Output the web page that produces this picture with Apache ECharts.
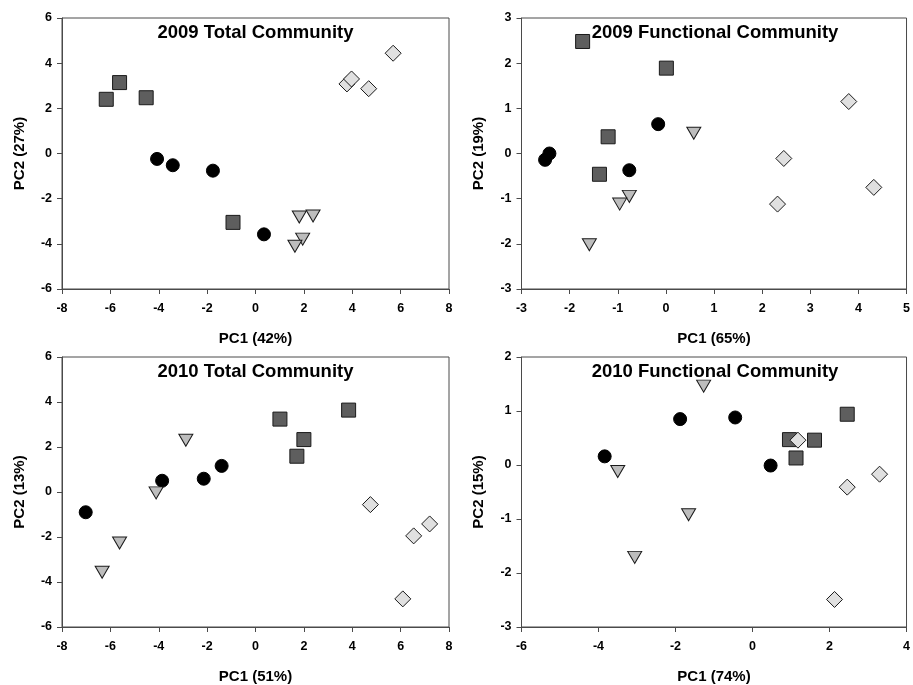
<!DOCTYPE html>
<html><head><meta charset="utf-8">
<script src="https://cdn.jsdelivr.net/npm/echarts@6/dist/echarts.min.js"></script>
<style>html,body{margin:0;padding:0;background:#fff}#c{width:913px;height:685px}</style>
</head><body><div id="c"></div>
<script>
// ---- data ----
const panelTitles = ['2009 Total Community', '2009 Functional Community', '2010 Total Community', '2010 Functional Community'];
const xNames = ['PC1 (42%)', 'PC1 (65%)', 'PC1 (51%)', 'PC1 (74%)'];
const yNames = ['PC2 (27%)', 'PC2 (19%)', 'PC2 (13%)', 'PC2 (15%)'];
const xMin = [-8, -3, -8, -6];
const xMax = [8, 5, 8, 4];
const xStep = [2, 1, 2, 2];
const yMin = [-6, -3, -6, -3];
const yMax = [6, 3, 6, 2];
const yStep = [2, 1, 2, 1];

// 2009 Total Community
const tot09Squares = [[-6.17, 2.40], [-5.62, 3.14], [-4.52, 2.47], [-0.93, -3.05]];
const tot09Circles = [[-4.07, -0.24], [-3.42, -0.52], [-1.76, -0.76], [0.35, -3.58]];
const tot09Triangles = [[1.81, -2.81], [2.38, -2.77], [1.95, -3.79], [1.63, -4.11]];
const tot09Diamonds = [[3.78, 3.08], [3.97, 3.30], [4.68, 2.87], [5.69, 4.44]];
// 2009 Functional Community
const fun09Squares = [[-1.73, 2.48], [0.01, 1.89], [-1.20, 0.37], [-1.38, -0.46]];
const fun09Circles = [[-2.51, -0.14], [-2.42, 0.00], [-0.16, 0.65], [-0.76, -0.37]];
const fun09Triangles = [[0.58, 0.45], [-0.76, -0.95], [-0.96, -1.12], [-1.59, -2.02]];
const fun09Diamonds = [[3.80, 1.15], [2.45, -0.11], [2.32, -1.12], [4.32, -0.75]];
// 2010 Total Community
const tot10Squares = [[1.01, 3.24], [3.85, 3.64], [2.00, 2.33], [1.71, 1.59]];
const tot10Circles = [[-7.02, -0.90], [-3.86, 0.50], [-2.14, 0.59], [-1.40, 1.16]];
const tot10Triangles = [[-2.88, 2.30], [-4.11, -0.04], [-5.62, -2.27], [-6.34, -3.57]];
const tot10Diamonds = [[4.75, -0.56], [6.54, -1.95], [7.20, -1.42], [6.09, -4.75]];
// 2010 Functional Community
const fun10Squares = [[0.96, 0.47], [1.61, 0.46], [1.13, 0.13], [2.46, 0.94]];
const fun10Circles = [[-3.84, 0.16], [-1.88, 0.85], [-0.45, 0.88], [0.47, -0.01]];
const fun10Triangles = [[-1.27, 1.46], [-3.50, -0.12], [-1.66, -0.92], [-3.06, -1.71]];
const fun10Diamonds = [[1.18, 0.46], [2.46, -0.41], [3.30, -0.17], [2.13, -2.49]];

const panelData = [
  [tot09Squares, tot09Circles, tot09Triangles, tot09Diamonds],
  [fun09Squares, fun09Circles, fun09Triangles, fun09Diamonds],
  [tot10Squares, tot10Circles, tot10Triangles, tot10Diamonds],
  [fun10Squares, fun10Circles, fun10Triangles, fun10Diamonds]
];

// ---- layout / style ----
const FONT = '"Liberation Sans", Arial, sans-serif';
const AXIS = '#4a4a4a';
const grids = [
  {left: 62, top: 18, width: 387, height: 271},
  {left: 521.5, top: 18, width: 387, height: 271},
  {left: 62, top: 357, width: 387, height: 272},
  {left: 521.5, top: 357, width: 387, height: 272}
];
const markerStyles = [
  {symbol: 'rect', symbolSize: 14, symbolRotate: 0, itemStyle: {color: '#5e5e5e', borderColor: '#1a1a1a', borderWidth: 1, opacity: 1}},
  {symbol: 'circle', symbolSize: 13, symbolRotate: 0, itemStyle: {color: '#000', borderColor: '#000', borderWidth: 1, opacity: 1}},
  {symbol: 'triangle', symbolSize: [14, 12], symbolRotate: 180, itemStyle: {color: '#bdbdbd', borderColor: '#1a1a1a', borderWidth: 1, opacity: 1}},
  {symbol: 'diamond', symbolSize: 16, symbolRotate: 0, itemStyle: {color: '#e0e0e0', borderColor: '#1a1a1a', borderWidth: 1, opacity: 1}}
];

const option = {
  animation: false,
  backgroundColor: '#fff',
  title: grids.map((g, i) => ({
    text: panelTitles[i],
    left: g.left + g.width / 2,
    top: g.top + 5,
    textAlign: 'center',
    padding: 0,
    textStyle: {fontFamily: FONT, fontWeight: 'bold', fontSize: 18.5, lineHeight: 20, color: '#000'}
  })),
  grid: grids.map(g => Object.assign({show: true, borderColor: AXIS, borderWidth: 1, backgroundColor: 'transparent'}, g)),
  xAxis: grids.map((g, i) => ({
    type: 'value', gridIndex: i, min: xMin[i], max: xMax[i], interval: xStep[i],
    name: xNames[i], nameLocation: 'middle', nameGap: 42,
    nameTextStyle: {fontFamily: FONT, fontWeight: 'bold', fontSize: 15, color: '#000'},
    axisLine: {show: true, onZero: false, lineStyle: {color: AXIS, width: 1}},
    axisTick: {show: true, inside: false, length: 5, lineStyle: {color: AXIS}},
    axisLabel: {margin: 13, fontFamily: FONT, fontWeight: 'bold', fontSize: 12.5, color: '#000'},
    splitLine: {show: false}
  })),
  yAxis: grids.map((g, i) => ({
    type: 'value', gridIndex: i, min: yMin[i], max: yMax[i], interval: yStep[i],
    name: yNames[i], nameLocation: 'middle', nameGap: 35,
    nameTextStyle: {fontFamily: FONT, fontWeight: 'bold', fontSize: 15, color: '#000'},
    axisLine: {show: true, onZero: false, lineStyle: {color: AXIS, width: 1}},
    axisTick: {show: true, inside: false, length: 5, lineStyle: {color: AXIS}},
    axisLabel: {margin: 10, fontFamily: FONT, fontWeight: 'bold', fontSize: 12.5, color: '#000'},
    splitLine: {show: false}
  })),
  series: []
};

panelData.forEach((groups, p) => {
  groups.forEach((pts, k) => {
    const m = markerStyles[k];
    option.series.push({
      type: 'scatter', xAxisIndex: p, yAxisIndex: p,
      symbol: m.symbol, symbolSize: m.symbolSize, symbolRotate: m.symbolRotate,
      itemStyle: m.itemStyle, z: 2 + k,
      data: pts
    });
  });
});

const chart = echarts.init(document.getElementById('c'), null, {renderer: 'canvas'});
chart.setOption(option);
</script>
</body></html>
